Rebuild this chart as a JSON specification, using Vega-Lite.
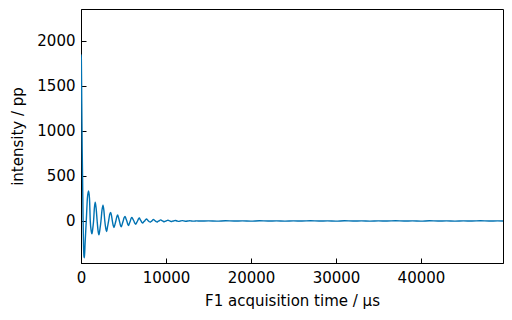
{
  "$schema": "https://vega.github.io/schema/vega-lite/v6.json",
  "width": 422,
  "height": 254,
  "autosize": {"type": "none"},
  "padding": {"left": 81, "top": 9, "right": 9, "bottom": 57},
  "background": "white",
  "config": {
    "view": {"stroke": "black", "strokeWidth": 1},
    "font": "DejaVu Sans",
    "axis": {
      "grid": false,
      "domainColor": "black",
      "tickColor": "black",
      "labelColor": "black",
      "titleColor": "black",
      "labelFont": "DejaVu Sans",
      "titleFont": "DejaVu Sans",
      "labelFontSize": 15,
      "titleFontSize": 15,
      "titleFontWeight": "normal",
      "tickSize": -5
    }
  },
  "data": {
    "values": [
      {"t": 0, "v": 1850}, {"t": 40, "v": 1800}, {"t": 90, "v": 1300}, {"t": 140, "v": 800},
      {"t": 190, "v": 450}, {"t": 240, "v": 50}, {"t": 300, "v": -280}, {"t": 360, "v": -400},
      {"t": 400, "v": -410}, {"t": 480, "v": -250},
      {"t": 620, "v": 0}, {"t": 750, "v": 250}, {"t": 890, "v": 333}, {"t": 1000, "v": 250},
      {"t": 1090, "v": 0}, {"t": 1200, "v": -110}, {"t": 1290, "v": -143}, {"t": 1390, "v": -80},
      {"t": 1480, "v": 0}, {"t": 1580, "v": 150}, {"t": 1680, "v": 209}, {"t": 1800, "v": 120},
      {"t": 1900, "v": 0}, {"t": 2010, "v": -110}, {"t": 2110, "v": -154}, {"t": 2230, "v": -90},
      {"t": 2350, "v": 0}, {"t": 2470, "v": 120}, {"t": 2590, "v": 176}, {"t": 2700, "v": 110},
      {"t": 2800, "v": 0}, {"t": 2910, "v": -80}, {"t": 3010, "v": -118}, {"t": 3130, "v": -60},
      {"t": 3250, "v": 0}, {"t": 3370, "v": 70}, {"t": 3490, "v": 95}, {"t": 3590, "v": 60},
      {"t": 3690, "v": 0}, {"t": 3790, "v": -50}, {"t": 3880, "v": -73}, {"t": 3990, "v": -40},
      {"t": 4100, "v": 0}, {"t": 4210, "v": 45}, {"t": 4310, "v": 66}, {"t": 4420, "v": 35},
      {"t": 4520, "v": 0}, {"t": 4630, "v": -45}, {"t": 4740, "v": -66}, {"t": 4850, "v": -35},
      {"t": 4960, "v": 0}, {"t": 5070, "v": 35}, {"t": 5180, "v": 51}, {"t": 5290, "v": 25},
      {"t": 5390, "v": 0}, {"t": 5500, "v": -35}, {"t": 5600, "v": -50}, {"t": 5700, "v": -25},
      {"t": 5800, "v": 0}, {"t": 5900, "v": 30}, {"t": 6000, "v": 40}, {"t": 6110, "v": 20},
      {"t": 6220, "v": 0}, {"t": 6330, "v": -25}, {"t": 6440, "v": -36}, {"t": 6550, "v": -18},
      {"t": 6650, "v": 0}, {"t": 6760, "v": 22}, {"t": 6870, "v": 33}, {"t": 6970, "v": 15},
      {"t": 7070, "v": 0}, {"t": 7160, "v": -16}, {"t": 7260, "v": -24}, {"t": 7370, "v": -10},
      {"t": 7490, "v": 0}, {"t": 7600, "v": 15}, {"t": 7720, "v": 22}, {"t": 7830, "v": 10},
      {"t": 7930, "v": 0}, {"t": 8040, "v": -9}, {"t": 8140, "v": -13}, {"t": 8240, "v": -6},
      {"t": 8340, "v": 0}, {"t": 8440, "v": 12}, {"t": 8530, "v": 18}, {"t": 8640, "v": 8},
      {"t": 8740, "v": 0}, {"t": 8850, "v": -8}, {"t": 8950, "v": -12}, {"t": 9050, "v": -5},
      {"t": 9170, "v": 0}, {"t": 9290, "v": 8}, {"t": 9400, "v": 12}, {"t": 9500, "v": 5},
      {"t": 9600, "v": 0}, {"t": 9700, "v": -6}, {"t": 9800, "v": -8}, {"t": 9920, "v": -3},
      {"t": 10030, "v": 0}, {"t": 10150, "v": 6}, {"t": 10250, "v": 8}, {"t": 10360, "v": 3},
      {"t": 10450, "v": 0}, {"t": 10550, "v": -4}, {"t": 10650, "v": -6}, {"t": 10770, "v": -2},
      {"t": 10880, "v": 0}, {"t": 11000, "v": 4}, {"t": 11100, "v": 6}, {"t": 11300, "v": 0},
      {"t": 11500, "v": -5}, {"t": 11700, "v": 0}, {"t": 11950, "v": 4}, {"t": 12150, "v": 0},
      {"t": 12350, "v": -3}, {"t": 12600, "v": 0}, {"t": 12800, "v": 3}, {"t": 13000, "v": 0},
      {"t": 13300, "v": -2}, {"t": 13600, "v": 1}, {"t": 14000, "v": -1}, {"t": 15000, "v": 1},
      {"t": 16000, "v": -2}, {"t": 17000, "v": 2}, {"t": 18000, "v": -1}, {"t": 19000, "v": 1},
      {"t": 20000, "v": -2}, {"t": 21000, "v": 2}, {"t": 22000, "v": -1}, {"t": 23000, "v": 1},
      {"t": 24000, "v": -2}, {"t": 25000, "v": 1}, {"t": 26000, "v": -1}, {"t": 27000, "v": 2},
      {"t": 28000, "v": -1}, {"t": 29000, "v": 1}, {"t": 30000, "v": -2}, {"t": 31000, "v": 2},
      {"t": 32000, "v": -1}, {"t": 33000, "v": 1}, {"t": 34000, "v": -2}, {"t": 35000, "v": 1},
      {"t": 36000, "v": -1}, {"t": 37000, "v": 2}, {"t": 38000, "v": -1}, {"t": 39000, "v": 1},
      {"t": 40000, "v": -2}, {"t": 41000, "v": 2}, {"t": 42000, "v": -1}, {"t": 43000, "v": 1},
      {"t": 44000, "v": -2}, {"t": 45000, "v": 1}, {"t": 46000, "v": -1}, {"t": 47000, "v": 2},
      {"t": 48000, "v": -1}, {"t": 49000, "v": 1}, {"t": 49650, "v": 0}
    ]
  },
  "mark": {"type": "line", "color": "#0072b2", "strokeWidth": 1.4, "interpolate": "monotone", "clip": true},
  "encoding": {
    "x": {
      "field": "t", "type": "quantitative",
      "scale": {"domain": [0, 49650], "nice": false, "zero": false},
      "axis": {"title": "F1 acquisition time / µs", "values": [0, 10000, 20000, 30000, 40000], "format": "d", "labelPadding": 12, "titlePadding": 8, "labelFlush": false}
    },
    "y": {
      "field": "v", "type": "quantitative",
      "scale": {"domain": [-467, 2355], "nice": false, "zero": false},
      "axis": {"title": "intensity / pp", "values": [0, 500, 1000, 1500, 2000], "format": "d", "labelPadding": 11, "titlePadding": 11}
    }
  }
}
